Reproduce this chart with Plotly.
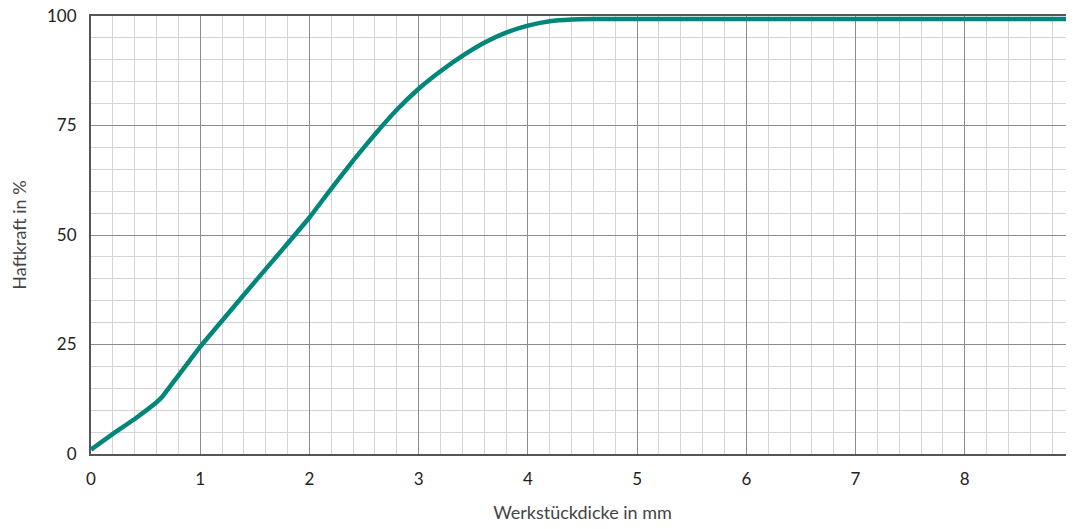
import plotly.graph_objects as go

# Werkstückdicke (mm) und Haftkraft (%)
dicke = [0, 0.2, 0.4, 0.6, 0.65, 0.75, 0.9, 1.0, 1.25, 1.5, 1.75,
         2.0, 2.2, 2.4, 2.6, 2.8, 3.0, 3.2, 3.4, 3.6, 3.8, 4.0, 4.2, 4.4, 4.6,
         5.0, 6.0, 7.0, 8.0, 9.0]
haftkraft = [1.0, 4.6, 8.0, 11.8, 13.0, 16.3, 21.2, 24.5, 31.9,
             39.3, 46.6, 54.0, 60.6, 67.0, 73.0, 78.6, 83.4, 87.4, 90.9, 93.9,
             96.2, 97.8, 98.8, 99.2, 99.3, 99.3, 99.3, 99.3, 99.3, 99.3]

x_ticks = list(range(0, 10))
y_ticks = [0, 25, 50, 75, 100]

FONT = "Lato"

fig = go.Figure()
fig.add_trace(go.Scatter(
    x=dicke, y=haftkraft,
    mode="lines",
    line=dict(color="#00877a", width=4.5, shape="spline", smoothing=0.4),
    showlegend=False,
    hoverinfo="skip",
))

# body hat 8px Rand -> Ränder entsprechend ausgleichen
fig.update_layout(
    width=1074, height=529,
    margin=dict(l=83, r=8, t=8, b=83),
    paper_bgcolor="white",
    plot_bgcolor="white",
    font=dict(family=FONT, size=16, color="#1a1a1a"),
    xaxis=dict(
        range=[0, 9],
        tickvals=x_ticks,
        automargin=False,
        showgrid=True, gridcolor="#8c8c8c", gridwidth=1,
        minor=dict(dtick=0.2, showgrid=True, gridcolor="#d4d4d4", gridwidth=1),
        showline=True, linecolor="#555555", linewidth=2, mirror=True,
        zeroline=False,
        ticks="outside", ticklen=9, tickcolor="rgba(0,0,0,0)",
        ticklabeloverflow="allow",
        tickfont=dict(family=FONT, size=17, color="#222222"),
        title=dict(text="Werkstückdicke in mm", standoff=18,
                   font=dict(family=FONT, size=18, color="#444444")),
    ),
    yaxis=dict(
        range=[0, 100],
        tickvals=y_ticks,
        automargin=False,
        showgrid=True, gridcolor="#8c8c8c", gridwidth=1,
        minor=dict(dtick=5, showgrid=True, gridcolor="#d4d4d4", gridwidth=1),
        showline=True, linecolor="#555555", linewidth=2,
        zeroline=False,
        ticks="outside", ticklen=9, tickcolor="rgba(0,0,0,0)",
        ticklabeloverflow="allow",
        tickfont=dict(family=FONT, size=17, color="#222222"),
        title=dict(text="Haftkraft in %", standoff=27,
                   font=dict(family=FONT, size=18, color="#444444")),
    ),
)

fig.write_html("out.html")
